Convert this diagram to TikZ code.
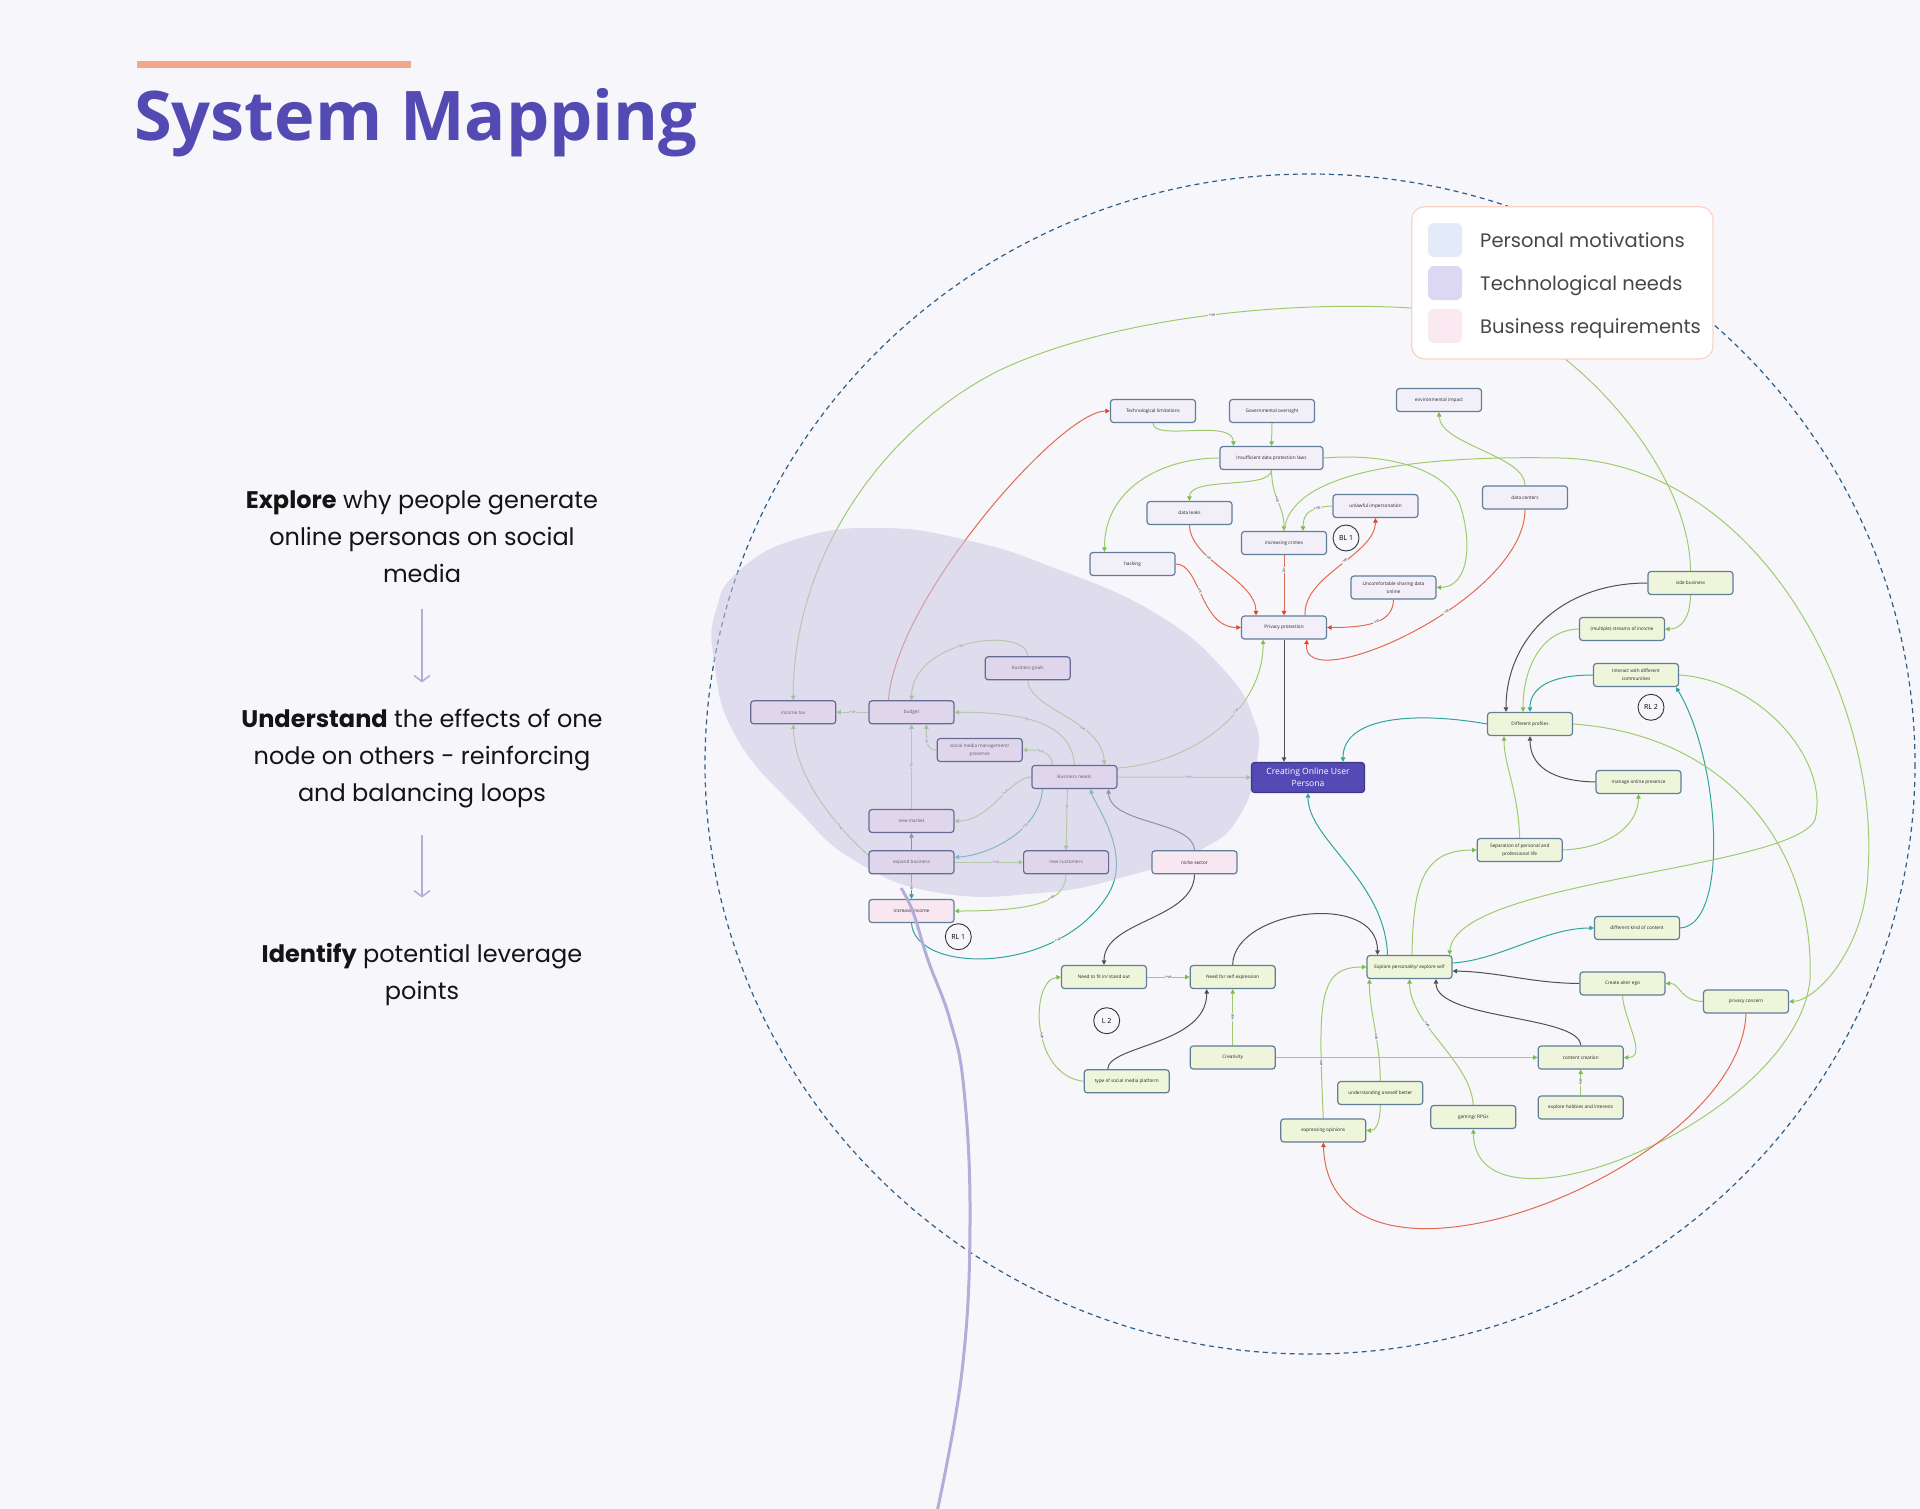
\documentclass[tikz,border=0pt]{standalone}
\usepackage{fontspec}
\usetikzlibrary{arrows.meta}
\newfontfamily\osfont{Open Sans}
\newfontfamily\popfont{Poppins}
\pgfdeclarelayer{bg}
\pgfdeclarelayer{edges}
\pgfdeclarelayer{blob}
\pgfsetlayers{bg,edges,blob,main}
\definecolor{bgc}{RGB}{247,247,251}
\definecolor{titlec}{RGB}{84,74,180}
\definecolor{barc}{RGB}{242,166,138}
\definecolor{edgec}{RGB}{96,126,152}
\definecolor{techc}{RGB}{242,239,249}
\definecolor{bizc}{RGB}{248,231,241}
\definecolor{lilac}{RGB}{224,214,236}
\definecolor{persc}{RGB}{239,245,218}
\definecolor{grl}{RGB}{158,204,108}
\definecolor{gra}{RGB}{120,192,67}
\definecolor{rdl}{RGB}{226,106,80}
\definecolor{rda}{RGB}{232,66,30}
\definecolor{dkl}{RGB}{80,80,80}
\definecolor{tll}{RGB}{46,166,154}
\definecolor{blobc}{RGB}{202,198,227}
\definecolor{dashc}{RGB}{46,94,134}
\definecolor{lavc}{RGB}{181,172,218}
\definecolor{personac}{RGB}{84,73,181}
\definecolor{legc}{RGB}{249,212,196}
\definecolor{sw1}{RGB}{227,234,248}
\definecolor{sw2}{RGB}{220,216,244}
\definecolor{sw3}{RGB}{251,233,242}

\begin{document}
\begin{tikzpicture}[x=1pt,y=-1pt,
    nodebox/.style={draw=edgec,line width=1.2pt,rounded corners=3pt,minimum width=85pt,minimum height=23pt,
      inner sep=1pt,align=center,text=black!85,font=\osfont\fontsize{4.7}{7.6}\selectfont},
    tech/.style={nodebox,fill=techc},
    biz/.style={nodebox,fill=bizc},
    bizin/.style={nodebox,fill=lilac,draw=edgec!85!violet,text=black!62},
    pers/.style={nodebox,fill=persc},
    persona/.style={nodebox,fill=personac,draw=personac!75!black,text=white,minimum width=113pt,
      minimum height=30pt,font=\osfont\fontsize{8.6}{12.3}\selectfont},
    loopmark/.style={circle,draw=black!80,line width=0.9pt,minimum size=26pt,inner sep=0pt,
      font=\osfont\fontsize{7}{7}\selectfont},
    lbl/.style={font=\osfont\fontsize{4.2}{4.5}\selectfont,fill=bgc,inner sep=0.4pt,text=black!75,sloped},
    gline/.style={draw=grl,line width=1pt,-{Triangle[length=4.5pt,width=4.5pt,color=gra]}},
    rline/.style={draw=rdl,line width=1pt,-{Triangle[length=4.5pt,width=4.5pt,color=rda]}},
    kline/.style={draw=dkl,line width=1pt,-{Triangle[length=4.5pt,width=4.5pt,color=dkl]}},
    tline/.style={draw=tll,line width=1pt,-{Triangle[length=4.5pt,width=4.5pt,color=tll]}},
    sidetxt/.style={font=\popfont\fontsize{24}{37}\selectfont,align=center,anchor=base,inner sep=0pt,text=black!92},
    sidearr/.style={draw=lavc,line width=1.6pt,-{Straight Barb[length=6pt,width=16pt,line width=1.6pt]}},
    legtxt/.style={font=\popfont\fontsize{19.5}{22}\selectfont,anchor=base west,inner sep=0pt,text=black!72},
    swatch/.style={rounded corners=6pt,minimum size=34pt,inner sep=0pt}]
\useasboundingbox (0,0) rectangle (1920,1509);
\begin{pgfonlayer}{bg}
\fill[bgc] (0,0) rectangle (1920,1509);
\draw[dashc,line width=1.2pt,dash pattern=on 5pt off 4pt] (1310,764) ellipse [x radius=605,y radius=590];
\end{pgfonlayer}

\fill[barc] (137,61) rectangle (411,68);
\node[anchor=base west,inner sep=0pt,text=titlec,font=\osfont\bfseries\fontsize{68.5}{72}\selectfont] (title) at (134,141) {System Mapping};

\node[sidetxt] (step1) at (422,582) {\textbf{Explore} why people generate\\online personas on social\\media};
\node[sidetxt] (step2) at (422,801) {\textbf{Understand} the effects of one\\node on others - reinforcing\\and balancing loops};
\node[sidetxt] (step3) at (422,999) {\textbf{Identify} potential leverage\\points};
\draw[sidearr] ([yshift=-27pt]step1.south) -- ([yshift=26pt]step2.north);
\draw[sidearr] ([yshift=-27pt]step2.south) -- ([yshift=45pt]step3.north);

% privacy cluster
\node[tech] (tlim) at (1153,411) {Technological limitations};
\node[tech] (gov) at (1272,411) {Governmental oversight};
\node[tech] (env) at (1439,400) {environmental impact};
\node[tech,minimum width=103pt] (laws) at (1271.5,458) {Insufficient data protection laws};
\node[tech] (leaks) at (1189.5,513) {data leaks};
\node[tech] (imp) at (1375.5,506) {unlawful impersonation};
\node[tech] (crimes) at (1284,543) {increasing crimes};
\node[tech] (dcent) at (1525,497.5) {data centers};
\node[tech] (hack) at (1132.5,564) {hacking};
\node[tech] (share) at (1393.5,587.5) {Uncomfortable sharing data\\online};
\node[tech] (priv) at (1284,627.5) {Privacy protection};
\node[loopmark] (bl1) at (1346,538) {BL 1};

% business cluster
\node[bizin] (goals) at (1027.7,668.3) {business goals};
\node[bizin] (tax) at (793.2,712.3) {income tax};
\node[bizin] (budget) at (911.5,712.3) {budget};
\node[bizin] (smm) at (979.7,750) {social media management/\\presence};
\node[bizin] (bneeds) at (1074.4,777) {Business needs};
\node[bizin] (market) at (911.5,821) {new market};
\node[bizin] (expand) at (911.5,862.3) {expand business};
\node[bizin] (cust) at (1066.1,862.3) {new customers};
\node[biz] (niche) at (1194.5,862.3) {niche sector};
\node[biz] (income) at (911.5,911) {increase income};
\node[loopmark] (rl1) at (958.3,936.7) {RL 1};
\node[persona] (persona) at (1308,777.5) {Creating Online User\\Persona};

% personal cluster
\node[pers] (side) at (1690.5,583) {side business};
\node[pers] (streams) at (1622,629) {(multiple) streams of income};
\node[pers] (interact) at (1636,675) {Interact with different\\communities};
\node[loopmark] (rl2) at (1651,707.3) {RL 2};
\node[pers] (profiles) at (1530,724) {Different profiles};
\node[pers] (manage) at (1638.5,782) {manage online presence};
\node[pers] (separate) at (1519.7,850) {Separation of personal and\\professional life};
\node[pers] (kinds) at (1637,928) {different kind of content};
\node[pers] (fitin) at (1104,977) {Need to fit in/ stand out};
\node[pers] (selfexp) at (1232.7,977) {Need for self expression};
\node[loopmark] (l2) at (1106.7,1020.7) {L 2};
\node[pers] (platform) at (1126.7,1081.3) {type of social media platform};
\node[pers] (creative) at (1232.7,1057.5) {Creativity};
\node[pers] (explore) at (1409.5,967) {Explore personality/ explore self};
\node[pers] (oneself) at (1380.3,1093) {understanding oneself better};
\node[pers] (opinions) at (1323.3,1130.5) {expressing opinions};
\node[pers] (gaming) at (1473.3,1117) {gaming/ RPGs};
\node[pers] (alter) at (1622.5,983.5) {Create alter ego};
\node[pers] (pconcern) at (1746,1001.5) {privacy concern};
\node[pers] (content) at (1580.7,1057.5) {content creation};
\node[pers] (hobbies) at (1580.7,1107.5) {explore hobbies and interests};

\begin{pgfonlayer}{edges}
\draw[gline] (tlim.south) .. controls (1153,442) and (1233,418) .. ([xshift=-38pt]laws.north);
\draw[gline] (gov.south) -- (laws.north);
\draw[gline] (laws.west) .. controls (1160,458) and (1104,490) .. ([xshift=-28pt]hack.north);
\draw[gline] (laws.south) .. controls (1271,490) and (1189,476) .. (leaks.north);
\draw[gline] (laws.south) .. controls (1272,500) and (1284,505) .. (crimes.north) node[lbl,pos=0.45] {+ve};
\draw[gline] (laws.east) .. controls (1400,452) and (1450,475) .. (1460,505) .. controls (1472,540) and (1470,587) .. (share.east);
\draw[gline] (crimes.north) .. controls (1290,475) and (1400,455) .. (1560,458) .. controls (1760,462) and (1880,700) .. (1868,870) .. controls (1866,950) and (1815,1001) .. (pconcern.east);
\draw[gline] (dcent.north) .. controls (1525,455) and (1440,445) .. (env.south);
\draw[gline] (imp.west) .. controls (1312,507) and (1303,512) .. ([xshift=19pt]crimes.north) node[lbl,pos=0.3] {+ve};
\draw[rline] (leaks.south) .. controls (1190,560) and (1256,580) .. ([xshift=-28pt]priv.north) node[lbl,pos=0.35] {-ve};
\draw[rline] (hack.east) .. controls (1200,563) and (1200,627.5) .. (priv.west) node[lbl,pos=0.45] {-ve};
\draw[rline] (crimes.south) -- (priv.north) node[lbl,pos=0.25] {-ve};
\draw[rline] ([xshift=21pt]priv.north) .. controls (1303,575) and (1375,555) .. (imp.south) node[lbl,pos=0.55] {-ve};
\draw[rline] (share.south) .. controls (1393,622) and (1370,627.5) .. (priv.east) node[lbl,pos=0.5] {-ve};
\draw[rline] (dcent.south) .. controls (1525,600) and (1300,700) .. ([xshift=23pt]priv.south) node[lbl,pos=0.4] {-ve};
\draw[kline] (priv.south) -- ([xshift=-24pt]persona.north);

\draw[gline] ([yshift=9pt]bneeds.east) .. controls (1200,762) and (1264,705) .. ([xshift=-21pt]priv.south) node[lbl,pos=0.6] {+ve};
\draw[gline] (bneeds.east) -- (persona.west) node[lbl,pos=0.53] {+ve};
\draw[tline] (profiles.west) .. controls (1420,712) and (1343,715) .. ([xshift=35pt]persona.north);
\draw[tline] ([xshift=-22pt]explore.north) .. controls (1385,880) and (1308,840) .. (persona.south);

\draw[kline] (side.west) .. controls (1560,583) and (1506,640) .. ([xshift=-24pt]profiles.north);
\draw[gline] (side.south) .. controls (1690,620) and (1680,629) .. (streams.east);
\draw[gline] (streams.west) .. controls (1540,630) and (1523,670) .. ([xshift=-7pt]profiles.north);
\draw[tline] (interact.west) .. controls (1550,675) and (1530,688) .. (profiles.north);
\draw[kline] (manage.west) .. controls (1550,781) and (1530,765) .. (profiles.south);
\draw[gline] (separate.north) .. controls (1518,790) and (1504,765) .. ([xshift=-26pt]profiles.south);
\draw[gline] (separate.east) .. controls (1610,848) and (1638,825) .. (manage.south);
\draw[tline] (kinds.east) .. controls (1730,925) and (1720,760) .. ([xshift=40pt]interact.south);
\draw[tline] ([yshift=4pt]explore.east) .. controls (1500,960) and (1545,928) .. (kinds.west);
\draw[gline] (interact.east) .. controls (1760,680) and (1830,760) .. (1815,820) .. controls (1790,870) and (1455,880) .. ([xshift=40pt]explore.north);
\draw[gline] (profiles.east) .. controls (1730,735) and (1815,850) .. (1810,980) .. controls (1795,1120) and (1475,1250) .. (gaming.south);
\draw[gline] (side.north) .. controls (1690,470) and (1580,350) .. (1500,320) .. controls (1400,295) and (1150,300) .. (1000,370) node[lbl,pos=0.6] {+ve} .. controls (880,430) and (793,560) .. (tax.north);
\draw[rline] (pconcern.south) .. controls (1740,1170) and (1330,1330) .. (opinions.south);

\draw[gline] (fitin.east) -- (selfexp.west) node[lbl,pos=0.5] {+ve};
\draw[gline] (platform.west) .. controls (1030,1075) and (1030,980) .. (fitin.west) node[lbl,pos=0.45] {+ve};
\draw[kline] ([xshift=-19pt]platform.north) .. controls (1108,1045) and (1207,1045) .. ([xshift=-26pt]selfexp.south);
\draw[gline] (creative.north) -- (selfexp.south) node[lbl,pos=0.5] {+ve};
\draw[kline] (selfexp.north) .. controls (1233,910) and (1378,890) .. ([xshift=-32pt]explore.north);
\draw[gline] (creative.east) -- (content.west);
\draw[gline] (opinions.north) .. controls (1318,1000) and (1318,967) .. (explore.west) node[lbl,pos=0.18] {+ve};
\draw[gline] (oneself.north) .. controls (1380,1040) and (1369,1010) .. ([xshift=-40pt]explore.south) node[lbl,pos=0.4] {+ve};
\draw[gline] (oneself.south) .. controls (1380,1125) and (1375,1130.5) .. (opinions.east);
\draw[gline] (gaming.north) .. controls (1470,1060) and (1410,1025) .. (explore.south) node[lbl,pos=0.65] {+ve};
\draw[gline] ([xshift=2.5pt]explore.north) .. controls (1413,880) and (1425,850) .. (separate.west);
\draw[kline] (alter.west) .. controls (1530,983) and (1500,972) .. ([yshift=-4pt]explore.east);
\draw[kline] (content.north) .. controls (1580,1015) and (1436,1020) .. ([xshift=26.5pt]explore.south);
\draw[gline] (alter.south) .. controls (1624,1020) and (1648,1057.5) .. (content.east);
\draw[gline] (pconcern.west) .. controls (1680,1001) and (1680,983) .. (alter.east);
\draw[gline] (hobbies.north) -- (content.south) node[lbl,pos=0.5] {+ve};

\draw[kline] (niche.north) .. controls (1193,820) and (1110,825) .. ([xshift=34pt]bneeds.south);
\draw[kline] (niche.south) .. controls (1194,920) and (1104,920) .. (fitin.north);
\draw[tline] (income.south) .. controls (915,975) and (1060,975) .. (1108.8,893.3) node[lbl,pos=0.75] {+ve} .. controls (1132,853) and (1095,805) .. ([xshift=16pt]bneeds.south);
\draw[gline] (bneeds.west) .. controls (1010,777) and (990,821) .. (market.east) node[lbl,pos=0.4] {+ve};
\draw[tline] ([xshift=-32pt]bneeds.south) .. controls (1040,830) and (990,855) .. ([yshift=5pt]expand.east) node[lbl,pos=0.35] {+ve};
\draw[gline] ([xshift=-7pt]bneeds.south) -- (cust.north) node[lbl,pos=0.32] {+ve};
\draw[gline] (bneeds.north) .. controls (1072,730) and (1040,712) .. (budget.east) node[lbl,pos=0.65] {+ve};
\draw[gline] ([xshift=-22pt]bneeds.north) .. controls (1052,752) and (1040,750) .. (smm.east) node[lbl,pos=0.6] {+ve};
\draw[gline] (goals.south) .. controls (1030,710) and (1102,720) .. ([xshift=30pt]bneeds.north) node[lbl,pos=0.65] {+ve};
\draw[gline] (goals.north) .. controls (1026,625) and (912,640) .. (budget.north) node[lbl,pos=0.55] {+ve};
\draw[gline] (smm.west) .. controls (926,750) and (926,740) .. ([xshift=15pt]budget.south) node[lbl,pos=0.6] {+ve};
\draw[gline] (market.north) -- (budget.south) node[lbl,pos=0.5] {+ve};
\draw[gline] (budget.west) -- (tax.east) node[lbl,pos=0.5] {+ve};
\draw[rline] ([xshift=-23pt]budget.north) .. controls (895,600) and (1060,411) .. (tlim.west);
\draw[kline] (expand.north) -- (market.south);
\draw[gline] ([yshift=7pt]expand.west) .. controls (840,830) and (795,780) .. (tax.south) node[lbl,pos=0.3] {+ve};
\draw[gline] (expand.east) -- (cust.west) node[lbl,pos=0.6] {+ve};
\draw[tline] (expand.south) -- (income.north) node[lbl,pos=0.5] {+ve};
\draw[gline] (cust.south) .. controls (1065,900) and (1040,911) .. (income.east) node[lbl,pos=0.4] {+ve};
\end{pgfonlayer}

\begin{pgfonlayer}{blob}
\fill[blobc,opacity=0.55] plot[smooth cycle,tension=0.8] coordinates {(881,528) (966,540) (1052,567) (1155,613) (1224,670) (1254,720) (1257,760) (1240,815) (1200,850) (1120,878) (1040,893) (940,893) (857,862) (796,808) (735,735) (714,660) (716,610) (740,570) (800,538)};
\end{pgfonlayer}
\draw[lavc,line width=3pt] plot[smooth,tension=0.7] coordinates {(901,888) (913,912) (928,960) (950,1020) (964,1090) (970,1224) (962,1371) (937,1512)};

\draw[draw=legc,fill=white,line width=1.2pt,rounded corners=13pt] (1411.7,206.7) rectangle (1713,359);
\node[swatch,fill=sw1] (sw1) at (1445,240) {};
\node[swatch,fill=sw2] (sw2) at (1445,283) {};
\node[swatch,fill=sw3] (sw3) at (1445,326) {};
\node[legtxt] (leg1) at (1480,247.5) {Personal motivations};
\node[legtxt] (leg2) at (1480,290) {Technological needs};
\node[legtxt] (leg3) at (1480,333) {Business requirements};
\end{tikzpicture}
\end{document}
